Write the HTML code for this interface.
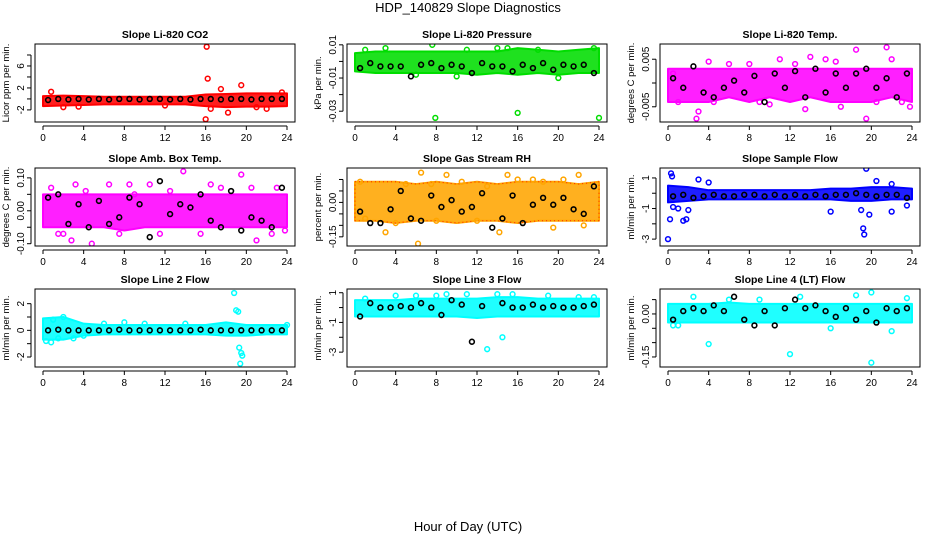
<!DOCTYPE html>
<html><head><meta charset="utf-8"><style>
body{margin:0;background:#fff}
svg{display:block;font-family:"Liberation Sans",sans-serif}
</style></head><body>
<svg id="c" width="936" height="540">
<text x="468" y="12" text-anchor="middle" font-size="13">HDP_140829  Slope Diagnostics</text>
<text x="468" y="531" text-anchor="middle" font-size="13">Hour of Day (UTC)</text>
</svg>
<script>
const xTicks=[0,4,8,12,16,20,24];
const bandHours=[0,2,4,6,8,10,12,14,16,18,20,22,24];
const blackHours=[0.5,1.5,2.5,3.5,4.5,5.5,6.5,7.5,8.5,9.5,10.5,11.5,12.5,13.5,14.5,15.5,16.5,17.5,18.5,19.5,20.5,21.5,22.5,23.5];
const titles=["Slope Li-820 CO2","Slope Li-820 Pressure","Slope Li-820 Temp.","Slope Amb. Box Temp.","Slope Gas Stream RH","Slope Sample Flow","Slope Line 2 Flow","Slope Line 3 Flow","Slope Line 4 (LT) Flow"];
const yTitles=["Licor ppm per min.","kPa per min.","degrees C per min.","degrees C per min.","percent per min.","ml/min per min.","ml/min per min.","ml/min per min.","ml/min per min."];
const colors=["#ff0000","#00dd00","#ff00ff","#ff00ff","#ffa500","#0000ff","#00ffff","#00ffff","#00ffff"];
const yDomains=[[10,-4.2],[0.0105,-0.0365],[0.0082,-0.0082],[0.13,-0.107],[0.15,-0.19],[1.65,-3.45],[3.1,-2.75],[1.25,-4.0],[0.087,-0.185]];
const yTickVals=[[-2,0,2,4,6,8],[-0.03,-0.02,-0.01,0,0.01],[-0.005,0,0.005],[-0.1,-0.05,0,0.05,0.1],[-0.15,-0.1,-0.05,0,0.05,0.1],[-3,-2,-1,0,1],[-2,-1,0,1,2],[-3,-2,-1,0,1],[-0.15,-0.1,-0.05,0,0.05]];
const yTickLabels=[["-2","","2","","6",""],["-0.03","","-0.01","","0.01"],["-0.005","","0.005"],["-0.10","","0.00","","0.10"],["-0.15","","","0.00","",""],["-3","","-1","","1"],["-2","","0","","2"],["-3","","-1","","1"],["-0.15","","","0.00",""]];
const bandLo=[[-1.3,-1.2,-1.1,-1,-1,-1,-1,-1,-1.3,-1.5,-1.4,-1.4,-1.3],[-0.006,-0.007,-0.007,-0.007,-0.007,-0.007,-0.008,-0.007,-0.008,-0.007,-0.008,-0.007,-0.007],[-0.004,-0.004,-0.004,-0.003,-0.004,-0.003,-0.004,-0.003,-0.004,-0.004,-0.004,-0.003,-0.004],[-0.05,-0.05,-0.05,-0.05,-0.06,-0.05,-0.05,-0.05,-0.05,-0.05,-0.05,-0.05,-0.05],[-0.08,-0.08,-0.09,-0.08,-0.08,-0.09,-0.08,-0.08,-0.09,-0.08,-0.08,-0.08,-0.08],[-0.6,-0.5,-0.4,-0.4,-0.4,-0.4,-0.4,-0.4,-0.4,-0.5,-0.5,-0.4,-0.4],[-0.7,-0.7,-0.4,-0.3,-0.3,-0.3,-0.3,-0.3,-0.3,-0.4,-0.4,-0.3,-0.3],[-0.6,-0.6,-0.6,-0.6,-0.6,-0.6,-0.7,-0.6,-0.6,-0.6,-0.6,-0.6,-0.6],[-0.03,-0.03,-0.03,-0.03,-0.03,-0.03,-0.03,-0.03,-0.03,-0.03,-0.03,-0.03,-0.03]];
const bandHi=[[0.5,0.6,0.5,0.4,0.4,0.4,0.4,0.4,0.8,0.9,1,1,1],[0.005,0.006,0.006,0.006,0.006,0.006,0.006,0.006,0.008,0.007,0.006,0.007,0.008],[0.003,0.003,0.003,0.003,0.003,0.003,0.003,0.003,0.003,0.003,0.003,0.003,0.003],[0.05,0.05,0.05,0.05,0.05,0.05,0.05,0.05,0.05,0.05,0.05,0.05,0.05],[0.09,0.09,0.09,0.08,0.09,0.08,0.09,0.08,0.09,0.09,0.09,0.08,0.09],[0.5,0.4,0.2,0.2,0.2,0.2,0.2,0.2,0.3,0.3,0.4,0.4,0.3],[0.9,1.0,0.5,0.4,0.4,0.4,0.4,0.4,0.4,0.6,0.4,0.4,0.4],[0.5,0.5,0.5,0.6,0.6,0.6,0.6,0.7,0.7,0.6,0.6,0.6,0.6],[0.035,0.035,0.035,0.04,0.035,0.035,0.035,0.035,0.035,0.035,0.035,0.035,0.035]];
const outX=[[0.8,16.1,16.2,16,18.2,17.5,19.5,16.5,2,3.5,22,21,23.5,12],[7.9,16,24,7.6,3,14,15,23.5,10,20,6,1,11,18],[0.5,1,2.8,4,4.5,9,10,11,12.5,13.5,14,15.5,17,18.5,19.5,21.5,22,23,23.8,3,6,8,16.5,20.5],[0.8,1.5,2,2.8,3.2,4.2,4.8,6.5,7.5,9,10.5,12.5,13.8,15.5,16.5,17.5,19.5,20.5,21,22.5,23,23.8,8.5,11.5],[0.5,1,4,5,6.2,6.5,7.5,9,10.5,12,13,14.2,15,17.5,18.5,19.5,20.5,22,22.5,3,8,16],[0,0.2,0.3,0.4,1,1.5,1.8,2,3,4,16,19,19.2,19.3,19.5,19.8,20.5,22,22,23.5,0.5],[18.8,19,19.2,19.3,19.5,19.6,19.4,0.3,0.8,1.5,3,4,1,2,6,8,10,14,24],[13,14.5,11,14,15.5,9,19,8,4,22,23.5,6,1],[4,12,20,20,2.5,13,18.5,0.5,6,9,16,22,23.5,1]];
const outY=[[1.3,9.5,3.7,-3.7,-2.5,1.8,2.5,-1.8,-1.5,-1.4,-1.8,-1.5,1.2,-1.2],[-0.034,-0.031,-0.034,0.01,0.008,0.008,0.008,0.008,-0.009,-0.01,-0.008,0.007,0.007,0.007],[0.002,-0.004,-0.0075,0.0045,-0.004,-0.004,-0.0045,0.005,0.004,-0.0055,0.0055,0.005,-0.005,0.007,-0.0075,0.0075,0.005,-0.004,-0.005,-0.006,0.004,0.004,0.0045,-0.004],[0.07,-0.07,-0.07,-0.09,0.08,0.06,-0.1,0.08,-0.07,0.05,0.08,0.06,0.12,-0.07,0.08,0.07,0.11,0.07,-0.09,-0.07,0.07,-0.06,0.08,-0.07],[0.09,-0.07,-0.09,0.08,-0.18,0.13,0.08,0.12,0.09,-0.08,0.07,-0.13,0.12,0.1,0.09,-0.11,0.1,0.12,-0.1,-0.13,-0.08,0.1],[-3,-1.7,1.3,1.1,-1,-1.8,-1.7,-1.1,0.9,0.7,-1.2,-1.1,-2.3,-2.7,1.6,-1.4,0.8,0.6,-1.2,-0.8,-0.9],[2.8,1.5,1.4,-1.3,-1.7,-1.9,-2.5,-0.8,-0.9,-0.6,-0.6,-0.4,0.8,1.0,0.5,0.6,0.5,0.5,0.4],[-2.8,-2,0.9,0.9,0.9,0.9,0.8,0.8,0.8,0.7,0.7,0.8,0.6],[-0.105,-0.14,-0.17,0.075,0.06,0.06,0.065,-0.04,0.05,0.05,-0.05,-0.06,0.055,-0.04]];
const blackVals=[[-0.2,0,-0.1,0,-0.1,0,-0.1,0,0,-0.1,0,0,-0.1,0,-0.1,0,0,-0.1,0,0,-0.1,0,0,0],[-0.004,-0.001,-0.003,-0.003,-0.003,-0.009,-0.002,-0.001,-0.004,-0.002,-0.003,-0.007,-0.001,-0.003,-0.003,-0.006,-0.002,-0.004,-0.001,-0.005,-0.002,-0.003,-0.002,-0.007],[0.001,-0.001,0.0035,-0.002,-0.003,-0.001,0.0005,-0.002,0.0015,-0.004,0.002,-0.001,0.0025,-0.003,0.003,-0.002,0.002,-0.001,0.002,0.003,-0.001,0.001,-0.003,0.002],[0.04,0.05,-0.04,0.02,-0.05,0.03,-0.04,-0.02,0.04,0.02,-0.08,0.09,-0.01,0.02,0.01,0.05,-0.03,-0.05,0.06,-0.06,-0.02,-0.03,-0.05,0.07],[-0.04,-0.09,-0.09,-0.03,0.05,-0.07,-0.08,0.03,-0.02,0.01,-0.04,-0.02,0.04,-0.11,-0.07,0.03,-0.09,-0.01,0.02,-0.01,0.02,-0.03,-0.05,0.07],[-0.2,-0.1,-0.3,-0.2,-0.1,-0.2,-0.2,-0.1,-0.1,-0.2,-0.1,-0.2,-0.1,-0.2,-0.1,-0.2,-0.1,-0.1,0,-0.1,-0.2,-0.1,-0.1,-0.3],[0,0.05,0,0,0,0,0,0.05,0,0,0,0,0,0,0,0.05,0,0,0,0,0,0,0,0],[-0.6,0.3,0,0,0.1,0,0.3,0,-0.5,0.5,0.2,-2.3,0.1,-4.3,0.3,0,0,0.2,0,0.1,0,0,0.1,0.2],[-0.02,0.01,0.02,0.01,0.03,0.01,0.06,-0.02,-0.04,0.01,-0.04,0.02,0.05,0.02,0.03,0.01,-0.01,0.02,-0.02,0.01,-0.03,0.02,0.01,0.02]];

const NS="http://www.w3.org/2000/svg",svg=document.getElementById('c');
function mk(tag,attrs,parent){const e=document.createElementNS(NS,tag);for(const k in attrs)e.setAttribute(k,attrs[k]);(parent||svg).appendChild(e);return e;}
const colL=[35,347,660],colW=260,rowT=[44,168,289],rowH=78;
for(let p=0;p<9;p++){
  const L=colL[p%3],T=rowT[Math.floor(p/3)],R=L+colW,B=T+rowH;
  const g=mk('g',{});
  
  
  const x0=L+8,x1=R-8;
  const xs=h=>x0+(x1-x0)*h/24;
  const [d0,d1]=yDomains[p];
  const ys=v=>T+(d0-v)/(d0-d1)*rowH;
  const t=mk('text',{x:(L+R)/2,y:T-6,'text-anchor':'middle','font-size':10.5,'font-weight':'bold'},g);t.textContent=titles[p];
  
  
  const yt=mk('text',{transform:`translate(${L-26},${(T+B)/2}) rotate(-90)`,'text-anchor':'middle','font-size':9.5},g);yt.textContent=yTitles[p];
  
  
  const cp=mk('clipPath',{id:'cp'+p},g);mk('rect',{x:L,y:T,width:colW,height:rowH},cp);
  const plot=mk('g',{'clip-path':`url(#cp${p})`},g);
  let pts=bandHours.map((h,i)=>xs(h)+','+ys(bandHi[p][i]));
  pts=pts.concat(bandHours.map((h,i)=>xs(h)+','+ys(bandLo[p][i])).reverse());
  const band=mk('polygon',{points:pts.join(' '),fill:colors[p],'fill-opacity':0.88,stroke:colors[p],'stroke-width':2,'stroke-linejoin':'round'},plot);
  
  
  if(p===4){mk('polygon',{points:pts.join(' '),fill:'none',stroke:'#ff2200','stroke-width':1,'stroke-dasharray':'1 3'},plot);}
  outX[p].forEach((h,i)=>{const c=mk('circle',{cx:xs(h),cy:ys(outY[p][i]),r:2.4,fill:'none',stroke:colors[p],'stroke-width':1.5},plot);
    
    });
  blackHours.forEach((h,i)=>{const c=mk('circle',{cx:xs(h),cy:ys(blackVals[p][i]),r:2.4,fill:'none',stroke:'#000','stroke-width':1.6},plot);
    
    });
  mk('rect',{x:L,y:T,width:colW,height:rowH,fill:'none',stroke:'#000','stroke-width':1},g);
  mk('line',{x1:xs(0),x2:xs(24),y1:B+4,y2:B+4,stroke:'#000'},g);
  xTicks.forEach(v=>{mk('line',{x1:xs(v),x2:xs(v),y1:B+4,y2:B+8,stroke:'#000'},g);
    const tl=mk('text',{x:xs(v),y:B+19,'text-anchor':'middle','font-size':10},g);tl.textContent=v;
    
    });
  const yv=yTickVals[p];
  mk('line',{x1:L-4,x2:L-4,y1:ys(yv[yv.length-1]),y2:ys(yv[0]),stroke:'#000'},g);
  yv.forEach((v,i)=>{if(ys(v)<T-1||ys(v)>B+1)return;mk('line',{x1:L-4,x2:L-8,y1:ys(v),y2:ys(v),stroke:'#000'},g);
    if(yTickLabels[p][i]){const tl=mk('text',{transform:`translate(${L-11},${ys(v)}) rotate(-90)`,'text-anchor':'middle','font-size':10},g);tl.textContent=yTickLabels[p][i];
    
    }});
}
</script>
</body></html>
